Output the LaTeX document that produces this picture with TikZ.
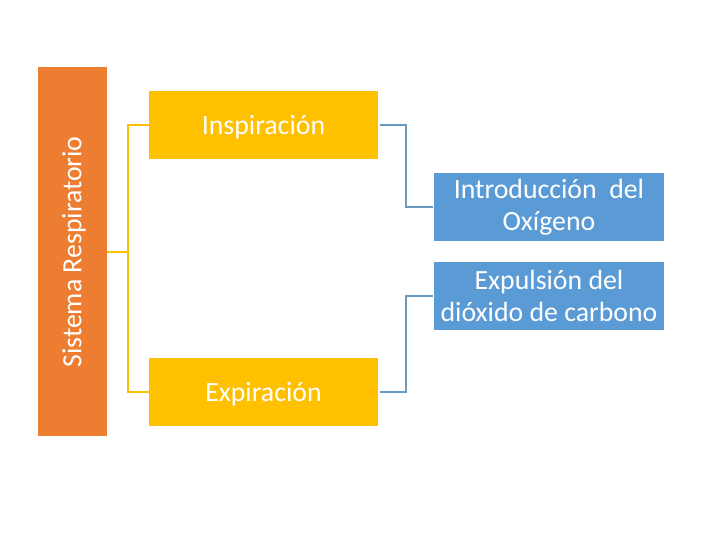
\documentclass[tikz,border=0pt]{standalone}
\usepackage{fontspec}
\setmainfont{Carlito}
\definecolor{orng}{HTML}{ED7D31}
\definecolor{ylw}{HTML}{FFC000}
\definecolor{blu}{HTML}{5B9BD5}
\definecolor{blink}{HTML}{6A9AC2}
\newcommand{\lowr}[1]{\raisebox{-2.5pt}[\height][\depth]{#1}}
\begin{document}
\begin{tikzpicture}[x=1pt,y=-1pt,
  boxy/.style={fill=ylw,draw=none,minimum width=229pt,minimum height=68pt,inner sep=0pt,text=white,font=\fontsize{27.8}{32}\selectfont},
  boxb/.style={fill=blu,draw=none,minimum width=230pt,minimum height=68pt,inner sep=0pt,text=white,align=center,font=\fontsize{27.8}{32}\selectfont},
  ylink/.style={draw=ylw,line width=1.5pt},
  blink/.style={draw=blink,line width=1.5pt}]
\useasboundingbox (0,0) rectangle (720,540);
\node[fill=orng,minimum width=69pt,minimum height=369pt,inner sep=0pt] (root) at (72.5,251.5) {};
\node[rotate=90,text=white,font=\fontsize{27.8}{32}\selectfont] (rootlabel) at (74,252) {Sistema Respiratorio};
\node[boxy] (insp) at (263.5,125) {\lowr{Inspiración}};
\node[boxy] (expi) at (263.5,392) {\lowr{Expiración}};
\node[boxb] (intro) at (549,207) {Introducción\ \ del\\Oxígeno};
\node[boxb] (expul) at (549,296) {Expulsión del\\dióxido de carbono};
\coordinate (rootout) at (107,252);
\coordinate (yj) at (128,252);
\draw[ylink] (rootout) -- (yj) |- (insp.west);
\draw[ylink] (yj) |- (expi.west);
\coordinate (bj) at (406,0);
\draw[blink] ([xshift=2pt]insp.east) -- (insp.east -| bj) |- ([xshift=-1pt]intro.west);
\draw[blink] ([xshift=2pt]expi.east) -- (expi.east -| bj) |- ([xshift=-1pt]expul.west);
\end{tikzpicture}
\end{document}
